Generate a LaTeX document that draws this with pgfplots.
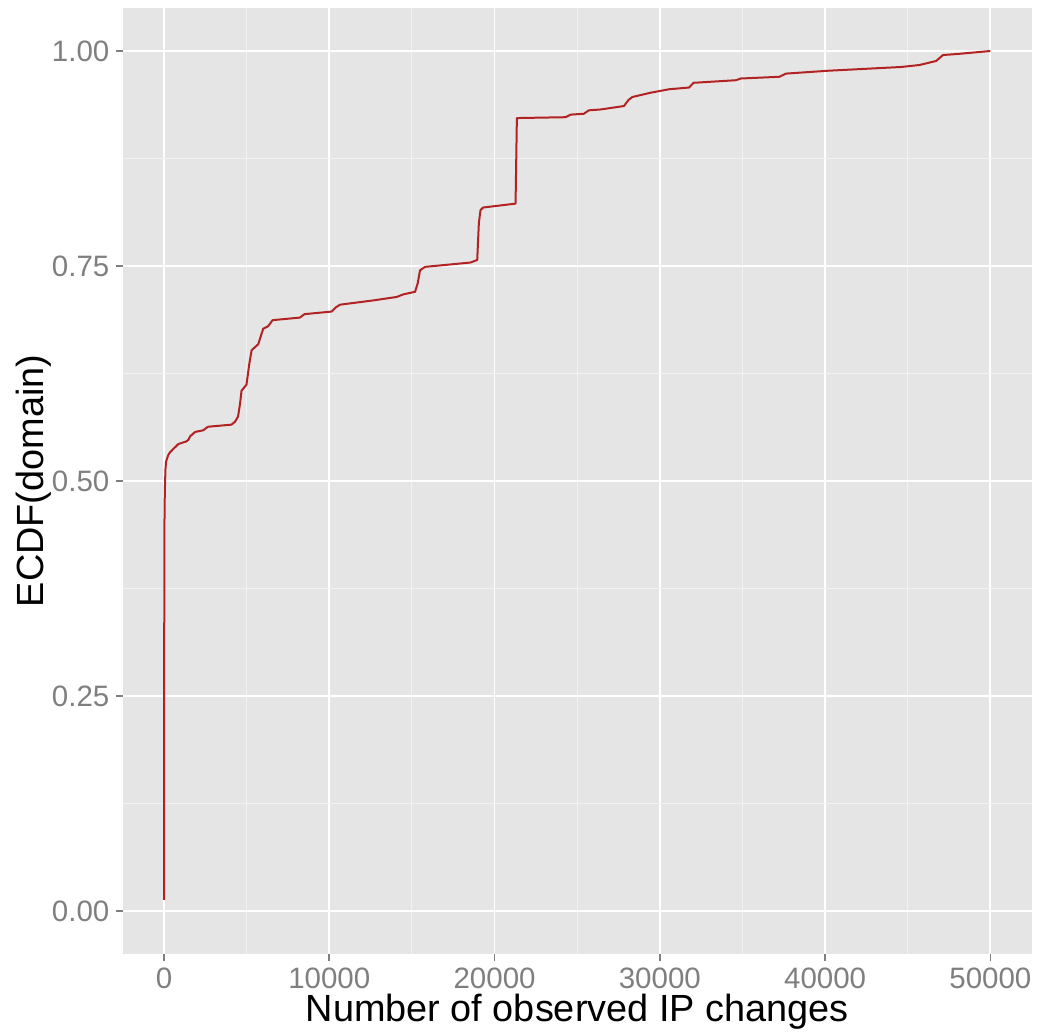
\documentclass[border=0pt]{standalone}
\usepackage{pgfplots}
\pgfplotsset{compat=1.18}
\usepackage{fontspec}
\setmainfont{Liberation Sans}
\definecolor{panel}{HTML}{E5E5E5}
\definecolor{minorgrid}{HTML}{F2F2F2}
\definecolor{ticklab}{HTML}{7F7F7F}
\definecolor{curve}{RGB}{178,34,34}
\begin{document}
\begin{tikzpicture}
\begin{axis}[
  scale only axis, width=454.5bp, height=473bp,
  xmin=-2500, xmax=52500, ymin=-0.05, ymax=1.05,
  scaled x ticks=false, scaled y ticks=false,
  clip=false,
  axis line style={draw=none},
  axis background/.style={fill=panel},
  xtick={0,10000,20000,30000,40000,50000},
  xticklabels={0,10000,20000,30000,40000,50000},
  ytick={0,0.25,0.5,0.75,1},
  yticklabels={0.00,0.25,0.50,0.75,1.00},
  minor xtick={5000,15000,25000,35000,45000},
  minor ytick={0.125,0.375,0.625,0.875},
  grid=both,
  major grid style={draw=white, line width=0.9bp},
  minor grid style={draw=minorgrid, line width=0.45bp},
  tick align=outside,
  major tick length=3.6bp, minor tick length=0pt,
  major tick style={draw=ticklab, line width=0.8bp},
  xtick pos=left, ytick pos=left,
  ticklabel style={font=\fontsize{14.8}{17}\selectfont, text=ticklab, inner sep=0pt},
  xticklabel style={anchor=north, yshift=-3.2bp},
  yticklabel style={anchor=east, xshift=-2.9bp},
  xlabel={Number of observed IP changes},
  ylabel={ECDF(domain)},
  every axis x label/.style={at={(axis description cs:0.5,-0.0716)}, anchor=base, font=\fontsize{19}{22}\selectfont, inner sep=0pt},
  every axis y label/.style={at={(axis description cs:-0.0873,0.5)}, rotate=90, anchor=base, font=\fontsize{19}{22}\selectfont, inner sep=0pt},
]
\addplot[curve, line width=1bp, line join=round, mark=none] coordinates {
(0,0.0128) (10,0.30) (25,0.45) (50,0.49) (90,0.515) (130,0.523)
(250,0.530) (350,0.533) (550,0.537) (870,0.543) (1350,0.546)
(1480,0.548) (1580,0.552) (1880,0.557) (2380,0.559) (2650,0.563)
(2900,0.5635) (4080,0.5655) (4300,0.569) (4480,0.575) (4600,0.590)
(4690,0.605) (4990,0.612) (5150,0.635) (5300,0.652) (5700,0.659)
(5850,0.668) (6000,0.677) (6300,0.680) (6570,0.687) (8220,0.690)
(8500,0.694) (10140,0.697) (10400,0.702) (10650,0.705) (12670,0.710)
(14080,0.714) (14480,0.717) (15190,0.720) (15350,0.730) (15490,0.745)
(15800,0.749) (18540,0.754) (18950,0.757) (19050,0.800) (19150,0.815)
(19310,0.818) (21270,0.8225) (21350,0.922) (24300,0.923) (24600,0.926)
(25400,0.927) (25700,0.931) (26420,0.932) (27830,0.936) (28100,0.943)
(28340,0.9465) (29450,0.9515) (30560,0.9555) (31770,0.9575) (32040,0.963)
(34600,0.966) (34900,0.968) (37230,0.970) (37630,0.9737) (40160,0.977)
(44600,0.9814) (45710,0.9837) (46720,0.9884) (47130,0.9953) (48000,0.9965)
(50000,1.0)
};
\path (rel axis cs:-0.135,-0.0846) rectangle (rel axis cs:1.00803,1.00846);
\end{axis}
\end{tikzpicture}
\end{document}
